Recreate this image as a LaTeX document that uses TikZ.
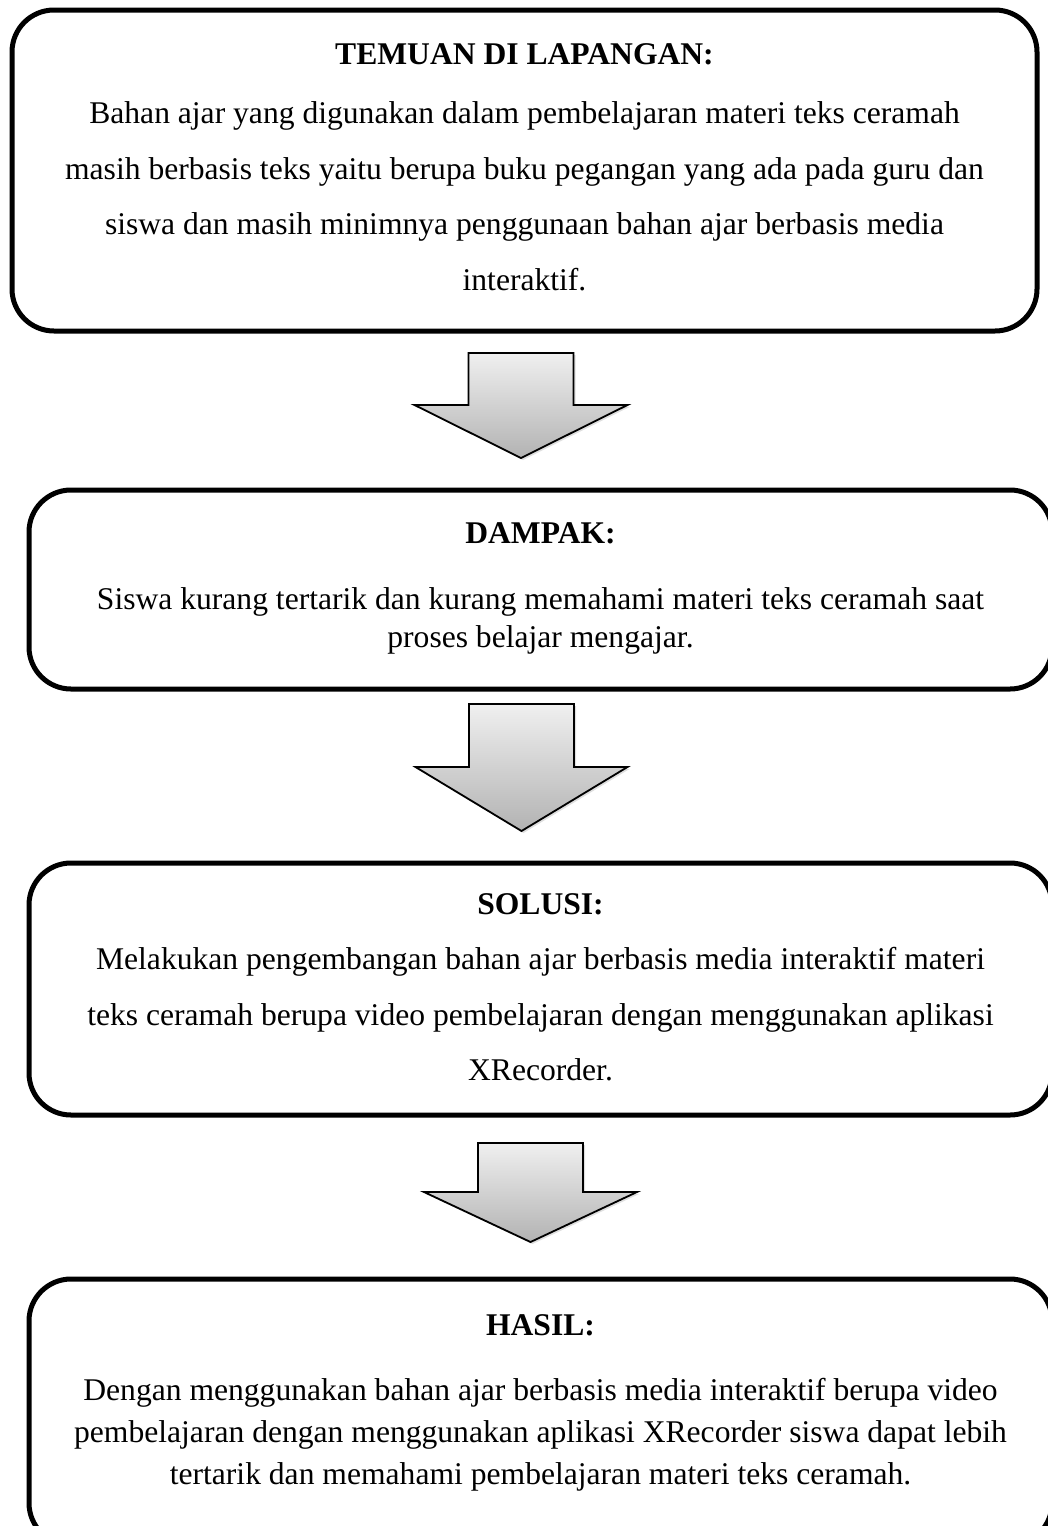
\documentclass[tikz,border=0pt]{standalone}
\usepackage{fontspec}
\setmainfont{Liberation Serif}
\usetikzlibrary{shadows}

% penyangga tinggi baris judul dan kedalaman baris terakhir
\newcommand{\tegak}{\rule{0pt}{11pt}}
\newcommand{\dasar}[1]{\rule[-#1]{0pt}{0pt}}

\begin{document}
\begin{tikzpicture}[x=0.5pt,y=-0.5pt,line join=round,
    kotak/.style={rectangle,draw,line width=2.5pt,rounded corners=21pt,
                  align=center,inner sep=0pt},
    panah/.style={draw,line width=0.9pt,line join=miter,
                  top color=gray!12,bottom color=gray!60,
                  drop shadow={opacity=0.25,shadow xshift=1pt,shadow yshift=-1pt}}]

  \useasboundingbox (0,0) rectangle (1048,1526);

  \begin{scope}
  \clip (0,0) rectangle (1048,1526);

  % ---- kotak 1: temuan di lapangan ----------------------------------------
  \node[kotak,minimum width=512.5pt,minimum height=160.5pt,
        font=\fontsize{15.8}{27.8}\selectfont] (temuan) at (524.5,170.5)
    {\tegak\textbf{TEMUAN DI LAPANGAN:}\\[1.5pt]
     Bahan ajar yang digunakan dalam pembelajaran materi teks ceramah\\
     masih berbasis teks yaitu berupa buku pegangan yang ada pada guru dan\\
     siswa dan masih minimnya penggunaan bahan ajar berbasis media\\
     interaktif.\dasar{4pt}};

  % ---- kotak 2: dampak -----------------------------------------------------
  \node[kotak,minimum width=511.5pt,minimum height=99.5pt,
        font=\fontsize{15.8}{19}\selectfont] (dampak) at (540.5,589.5)
    {\tegak\textbf{DAMPAK:}\\[14pt]
     Siswa kurang tertarik dan kurang memahami materi teks ceramah saat\\
     proses belajar mengajar.\dasar{5.5pt}};

  % ---- kotak 3: solusi -----------------------------------------------------
  \node[kotak,minimum width=511.5pt,minimum height=126pt,
        font=\fontsize{15.8}{27.75}\selectfont] (solusi) at (540.5,989)
    {\tegak\textbf{SOLUSI:}\\
     Melakukan pengembangan bahan ajar berbasis media interaktif materi\\
     teks ceramah berupa video pembelajaran dengan menggunakan aplikasi\\
     XRecorder.\dasar{2.5pt}};

  % ---- kotak 4: hasil ------------------------------------------------------
  \node[kotak,minimum width=511.5pt,minimum height=133pt,
        font=\fontsize{15.8}{21}\selectfont] (hasil) at (540.5,1412)
    {\tegak\textbf{HASIL:}\\[11.5pt]
     Dengan menggunakan bahan ajar berbasis media interaktif berupa video\\
     pembelajaran dengan menggunakan aplikasi XRecorder siswa dapat lebih\\
     tertarik dan memahami pembelajaran materi teks ceramah.\dasar{13.5pt}};

  % ---- panah blok di antara kotak ------------------------------------------
  \coordinate (p1) at (521,353);
  \coordinate (p2) at (521.5,704);
  \coordinate (p3) at (530.5,1143);

  \draw[panah,shift={(p1)}] (-52.5,0) -- (52.5,0) -- (52.5,52) -- (106.5,52)
        -- (0,105) -- (-106.5,52) -- (-52.5,52) -- cycle;
  \draw[panah,shift={(p2)}] (-52.5,0) -- (52.5,0) -- (52.5,63) -- (106,63)
        -- (0,127) -- (-106,63) -- (-52.5,63) -- cycle;
  \draw[panah,shift={(p3)}] (-52.5,0) -- (52.5,0) -- (52.5,49) -- (106.5,49)
        -- (0,99) -- (-106.5,49) -- (-52.5,49) -- cycle;
  \end{scope}

\end{tikzpicture}
\end{document}
